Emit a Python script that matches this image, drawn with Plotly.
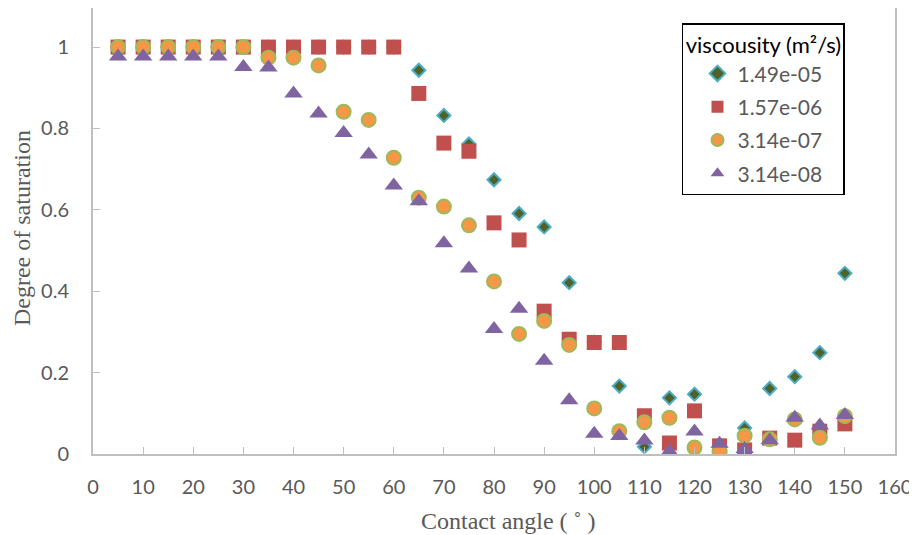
import plotly.graph_objects as go

angles = [5, 10, 15, 20, 25, 30, 35, 40, 45, 50, 55, 60, 65, 70, 75, 80, 85, 90,
          95, 100, 105, 110, 115, 120, 125, 130, 135, 140, 145, 150]

visc_1_49e_05 = [1.0, 1.0, 1.0, 1.0, 1.0, 1.0, 1.0, 1.0, 1.0, 1.0, 1.0, 1.0,
                 0.943, 0.832, 0.762, 0.674, 0.591, 0.558, 0.421, 0.275, 0.167,
                 0.018, 0.138, 0.147, 0.006, 0.064, 0.161, 0.19, 0.249, 0.444]
visc_1_57e_06 = [1.0, 1.0, 1.0, 1.0, 1.0, 1.0, 1.0, 1.0, 1.0, 1.0, 1.0, 1.0,
                 0.886, 0.764, 0.744, 0.568, 0.526, 0.351, 0.282, 0.274, 0.274,
                 0.094, 0.027, 0.106, 0.02, 0.01, 0.039, 0.034, 0.056, 0.074]
visc_3_14e_07 = [1.0, 1.0, 1.0, 1.0, 1.0, 1.0, 0.974, 0.974, 0.955, 0.841, 0.821,
                 0.728, 0.63, 0.608, 0.562, 0.424, 0.295, 0.327, 0.268, 0.112,
                 0.056, 0.078, 0.089, 0.016, 0.006, 0.045, 0.036, 0.085, 0.04, 0.093]
visc_3_14e_08 = [0.977, 0.977, 0.977, 0.977, 0.977, 0.951, 0.95, 0.886, 0.837,
                 0.789, 0.736, 0.66, 0.621, 0.518, 0.456, 0.307, 0.357, 0.229,
                 0.132, 0.05, 0.044, 0.033, 0.006, 0.055, 0.025, 0.012, 0.034,
                 0.089, 0.07, 0.096]

series_names = ["1.49e-05", "1.57e-06", "3.14e-07", "3.14e-08"]
x_ticks = [0, 10, 20, 30, 40, 50, 60, 70, 80, 90, 100, 110, 120, 130, 140, 150, 160]
y_ticks = [0, 0.2, 0.4, 0.6, 0.8, 1]
y_tick_labels = ["0", "0.2", "0.4", "0.6", "0.8", "1"]

styles = [
    dict(symbol="diamond", size=10, color="#4f6228", line=dict(color="#4bacc6", width=2)),
    dict(symbol="square", size=15, color="#c0504d", line=dict(color="#c0504d", width=0)),
    dict(symbol="circle", size=14, color="#f79646", line=dict(color="#9bbb59", width=2)),
    dict(symbol="triangle-up", size=16, color="#8064a2", line=dict(color="#8064a2", width=0)),
]

fig = go.Figure()
for name, vals, st in zip(series_names,
                          [visc_1_49e_05, visc_1_57e_06, visc_3_14e_07, visc_3_14e_08],
                          styles):
    fig.add_trace(go.Scatter(x=angles, y=vals, mode="markers", name=name,
                             legendgroup=name, marker=st))

gray = "#595959"
axis_line = "#bfbfbf"
serif = dict(family="Liberation Serif", size=24, color=gray)
fig.update_layout(
    width=909, height=527,
    margin=dict(l=85, r=22, t=0, b=81, autoexpand=False),
    paper_bgcolor="white", plot_bgcolor="white",
    font=dict(family="Lato", size=20, color=gray),
    showlegend=True,
    legend=dict(
        x=0.7344, y=0.966, xanchor="left", yanchor="top",
        bordercolor="black", borderwidth=1.5, bgcolor="white",
        title=dict(text="viscousity (m²/s)", side="top center",
                   font=dict(family="Lato", size=22, color="black")),
        font=dict(family="Lato", size=21, color=gray),
        traceorder="grouped", tracegroupgap=3, itemsizing="constant",
        indentation=14,
    ),
    xaxis=dict(range=[0, 160], tickvals=x_ticks, ticks="inside", ticklen=7,
               tickcolor=axis_line, showline=True, linecolor=axis_line,
               linewidth=2, mirror=True, showgrid=False, zeroline=False,
               ticklabelstandoff=14),
    yaxis=dict(range=[0, 1.096], tickvals=y_ticks, ticktext=y_tick_labels,
               ticks="inside", ticklen=7, tickcolor=axis_line, showline=True,
               linecolor=axis_line, linewidth=2, mirror=True, showgrid=False,
               zeroline=False, ticklabelstandoff=18),
    annotations=[
        dict(text="Contact angle ( ˚ )", x=0.5187, y=-0.150, xref="paper", yref="paper",
             xanchor="center", yanchor="middle", showarrow=False, font=serif),
        dict(text="Degree of saturation", x=-0.0885, y=0.5067, xref="paper", yref="paper",
             xanchor="center", yanchor="middle", textangle=-90, showarrow=False,
             font=serif),
    ],
)

fig.write_html("out.html")
